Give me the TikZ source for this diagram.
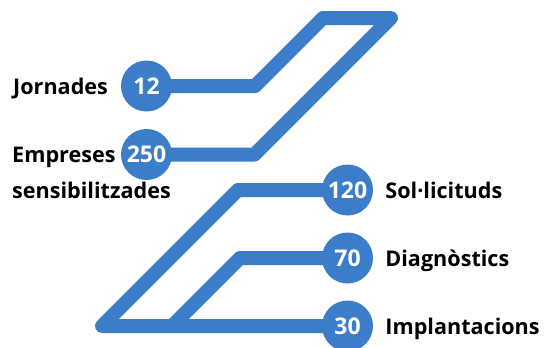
\documentclass[tikz,border=0pt]{standalone}
\usepackage{fontspec}
\setmainfont{Open Sans}
\usetikzlibrary{positioning,backgrounds}
\definecolor{trackblue}{RGB}{59,125,201}

\begin{document}
\begin{tikzpicture}[x=1pt,y=-1pt,
  num/.style={circle,fill=trackblue,minimum size=51pt,inner sep=0pt,
              text=white,font=\fontsize{23}{23}\selectfont\bfseries},
  lbl/.style={inner sep=0pt,text height=20pt,text depth=4pt,
              font=\fontsize{21.6}{21.6}\selectfont\bfseries},
  track/.style={draw=trackblue,line width=14pt,line join=round,line cap=round}
]
\useasboundingbox (0,0) rectangle (549,348);

%% -- circles with the figures ----------------------------------------------
\node[num] (n12)  at (146.5,86)    {12};
\node[num] (n250) at (146.5,154.5) {250};
\node[num] (n120) at (347.5,190)   {120};
\node[num] (n70)  at (347.5,258)   {70};
\node[num] (n30)  at (347.5,326)   {30};

%% -- labels ------------------------------------------------------------------
\node[lbl,anchor=west] (ljor) at (13,86) {Jornades};
\node[inner sep=0pt,anchor=base west,align=left,
      font=\fontsize{21.6}{36}\selectfont\bfseries] (lemp) at (12,198)
  {Empreses\\sensibilitzades};
\node[lbl,right=12pt of n120] (lsol) {Sol·licituds};
\node[lbl,right=12pt of n70]  (ldia) {Diagnòstics};
\node[lbl,right=12pt of n30]  (limp) {Implantacions};

%% -- bends of the track ------------------------------------------------------
\coordinate (a1) at (255,86);
\coordinate (a2) at (323,18);
\coordinate (a3) at (391,18);
\coordinate (a4) at (254.5,154.5);
\coordinate (b1) at (238,190);
\coordinate (b2) at (102,326);
\coordinate (c1) at (240,258);
\coordinate (c2) at (172,326);

%% -- track, under the circles ------------------------------------------------
\begin{scope}[on background layer]
\draw[track] (n12.center) -- (a1) -- (a2) -- (a3) -- (a4) -- (n250.center);
\draw[track] (n30.center) -- (b2) -- (b1) -- (n120.center);
\draw[track] (c2) -- (c1) -- (n70.center);
\end{scope}
\end{tikzpicture}
\end{document}
